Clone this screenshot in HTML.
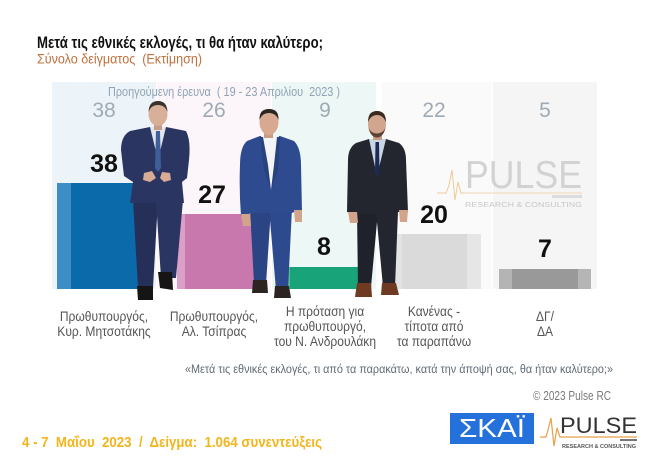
<!DOCTYPE html>
<html><head><meta charset="utf-8"><style>
html,body{margin:0;padding:0;background:#fff;}
svg{display:block;}
text{font-family:"Liberation Sans","DejaVu Sans",sans-serif;}
</style></head><body>
<svg width="650" height="461" viewBox="0 0 650 461" xmlns="http://www.w3.org/2000/svg">
<rect width="650" height="461" fill="#fff"/>
<!-- titles -->
<text x="37" y="48" font-size="16.5" font-weight="bold" fill="#111" textLength="286" lengthAdjust="spacingAndGlyphs">Μετά τις εθνικές εκλογές, τι θα ήταν καλύτερο;</text>
<text x="37" y="63.5" font-size="14" fill="#c0703c" textLength="165" lengthAdjust="spacingAndGlyphs" style="white-space:pre">Σύνολο δείγματος  (Εκτίμηση)</text>

<!-- background panels -->
<rect x="52" y="82" width="104" height="207" fill="#edf4f9"/>
<rect x="157" y="82" width="114" height="207" fill="#fcf5f9"/>
<rect x="272" y="82" width="104" height="207" fill="#edf7f6"/>
<rect x="382" y="82" width="110" height="207" fill="#fafafa"/>
<rect x="493" y="82" width="104" height="207" fill="#f5f5f5"/>

<!-- previous survey -->
<text x="108" y="96" font-size="13" fill="#8fa3b5" textLength="232" lengthAdjust="spacingAndGlyphs" style="white-space:pre">Προηγούμενη έρευνα  ( 19 - 23 Απριλίου  2023 )</text>
<g font-size="21" fill="#9eabb5" text-anchor="middle">
<text x="104" y="117">38</text>
<text x="214" y="117">26</text>
<text x="325" y="117">9</text>
<text x="434" y="117">22</text>
<text x="545" y="117">5</text>
</g>

<!-- watermark -->
<text x="465" y="188" font-size="39" fill="#d2d2d2" textLength="117" lengthAdjust="spacingAndGlyphs">PULSE</text>
<line x1="462" y1="193" x2="582" y2="193" stroke="#f1d7b5" stroke-width="1"/>
<polyline points="437,193 446,193 449,185 452,170 455,200 458,182 461,193 465,193" fill="none" stroke="#f0c99a" stroke-width="1"/>
<rect x="552" y="195" width="30" height="3" fill="#dcdcdc"/>
<text x="465" y="207" font-size="7" fill="#c8c8c8" textLength="117" lengthAdjust="spacingAndGlyphs">RESEARCH &amp; CONSULTING</text>

<!-- bars -->
<rect x="57" y="183" width="93" height="106" fill="#0a6aaa"/>
<rect x="57" y="183" width="14" height="106" fill="#3d8dc6"/>
<rect x="177" y="214" width="88" height="75" fill="#c978ad"/>
<rect x="177" y="214" width="8" height="75" fill="#daa0c7"/>
<rect x="280" y="267" width="87" height="22" fill="#18a478"/>
<rect x="280" y="267" width="10" height="22" fill="#55bc96"/>
<rect x="394" y="234" width="87" height="55" fill="#dadada"/>
<rect x="394" y="234" width="8" height="55" fill="#e3e3e3"/>
<rect x="467" y="234" width="14" height="55" fill="#e6e6e6"/>
<rect x="499" y="269" width="92" height="20" fill="#999999"/>
<rect x="499" y="269" width="13" height="20" fill="#b4b4b4"/>
<rect x="578" y="269" width="13" height="20" fill="#b5b5b5"/>

<!-- value labels -->
<g font-size="25" font-weight="bold" fill="#111" text-anchor="middle">
<text x="104" y="172">38</text>
<text x="212" y="203">27</text>
<text x="324" y="255">8</text>
<text x="434" y="223">20</text>
<text x="545" y="257">7</text>
</g>

<!-- Mitsotakis -->
<g>
<path d="M133,200 L158,200 L153,288 L138,288 Z" fill="#262f58"/>
<path d="M156,200 L183,200 L176,278 L161,278 Z" fill="#2b3562"/>
<path d="M137,286 L153,286 L153,300 L138,300 Z" fill="#151515"/>
<path d="M158,272 L172,272 L173,290 L160,288 Z" fill="#151515"/>
<path d="M130,131 L150,127 L166,127 L186,131 Q191,140 189,160 L187,178 L182,182 L184,203 L130,203 L133,182 L124,176 L121,150 Q121,136 130,131 Z" fill="#2b3562"/>
<path d="M150,127 L166,127 L158,160 Z" fill="#dfe6f0"/>
<path d="M156,131 L160,131 L161,168 L158,172 L155,168 Z" fill="#3f5f98"/>
<path d="M144,173 L152,171 L156,178 L150,182 L143,180 Z" fill="#d7ab94"/>
<path d="M162,172 L170,173 L171,180 L164,182 L160,178 Z" fill="#d7ab94"/>
<rect x="154" y="124" width="8" height="6" fill="#c99c86"/>
<ellipse cx="158" cy="114" rx="9.5" ry="12" fill="#d8af98"/>
<path d="M148.5,112 Q149,101 158,101 Q167,101 167.5,112 Q165,105 158,105 Q151,105 148.5,112 Z" fill="#3b322c"/>
</g>

<!-- Tsipras -->
<g>
<path d="M250,208 L271,208 L266,284 L254,284 Z" fill="#2a4484"/>
<path d="M269,208 L292,208 L288,290 L276,290 Z" fill="#2e4a8e"/>
<path d="M253,280 L267,280 L268,293 L252,293 Z" fill="#2b2420"/>
<path d="M275,286 L289,286 L291,298 L274,298 Z" fill="#2b2420"/>
<path d="M247,141 L260,136 L280,136 L294,141 Q301,148 301,165 L302,212 L294,212 L292,213 L250,213 L249,216 L241,216 Q239,190 240,165 Q240,147 247,141 Z" fill="#2f4b8f"/>
<path d="M261,136 L279,136 L277,160 L271,190 L265,160 Z" fill="#f3f4f6"/>
<path d="M260,137 L263,137 L268,165 L271,190 L264,170 Z" fill="#28427f"/>
<path d="M280,137 L277,137 L274,165 L271,190 L278,170 Z" fill="#28427f"/>
<path d="M241,214 L250,214 L251,226 L243,226 Z" fill="#d2a48c"/>
<path d="M294,210 L302,210 L302,222 L295,222 Z" fill="#d2a48c"/>
<rect x="264" y="131" width="9" height="7" fill="#c99c86"/>
<ellipse cx="269" cy="122" rx="9.5" ry="13" fill="#d6a990"/>
<path d="M259.5,120 Q259,109 269,109 Q279,109 278.5,120 Q276,113 269,113 Q262,113 259.5,120 Z" fill="#2c2522"/>
</g>

<!-- Androulakis -->
<g>
<path d="M357,211 L378,211 L371,287 L358,287 Z" fill="#1f222a"/>
<path d="M376,211 L398,211 L395,287 L383,287 Z" fill="#23262f"/>
<path d="M357,283 L371,283 L372,297 L355,297 Z" fill="#6e3b22"/>
<path d="M382,283 L396,283 L399,295 L381,295 Z" fill="#6e3b22"/>
<path d="M356,143 L369,139 L386,139 L399,143 Q406,148 406,160 L408,212 L398,212 L397,214 L358,214 L357,212 L347,212 L348,160 Q348,148 356,143 Z" fill="#23262f"/>
<path d="M369,139 L386,139 L377,176 Z" fill="#c9d6e6"/>
<path d="M375.5,142 L379,142 L379.5,172 L377,176 L375,172 Z" fill="#1d2a55"/>
<path d="M348,212 L357,212 L358,223 L350,223 Z" fill="#d2a48c"/>
<path d="M399,210 L408,210 L407,222 L400,222 Z" fill="#d2a48c"/>
<rect x="373" y="133" width="9" height="7" fill="#c99c86"/>
<ellipse cx="377" cy="124" rx="9" ry="13" fill="#d2a68e"/>
<path d="M368.5,127 Q370,137 377,137.5 Q384,137 385.5,127 Q384,133 377,133.5 Q370,133 368.5,127 Z" fill="#5a4536"/>
<path d="M368,122 Q368,111 377,111 Q386,111 386,122 Q383,115 377,115 Q371,115 368,122 Z" fill="#3a2a20"/>
</g>

<!-- category labels -->
<g font-size="14" fill="#555" text-anchor="middle">
<g transform="translate(104,0) scale(0.86,1)"><text x="0" y="321">Πρωθυπουργός,</text><text x="0" y="336">Κυρ. Μητσοτάκης</text></g>
<g transform="translate(214,0) scale(0.86,1)"><text x="0" y="321">Πρωθυπουργός,</text><text x="0" y="336">Αλ. Τσίπρας</text></g>
<g transform="translate(325,0) scale(0.86,1)"><text x="0" y="316">Η πρόταση για</text><text x="0" y="331">πρωθυπουργό,</text><text x="0" y="346">του Ν. Ανδρουλάκη</text></g>
<g transform="translate(434,0) scale(0.86,1)"><text x="0" y="316">Κανένας -</text><text x="0" y="331">τίποτα από</text><text x="0" y="346">τα παραπάνω</text></g>
<g transform="translate(545,0) scale(0.86,1)"><text x="0" y="321">ΔΓ/</text><text x="0" y="336">ΔΑ</text></g>
</g>

<text x="185" y="373" font-size="12" fill="#5f6a74" textLength="428" lengthAdjust="spacingAndGlyphs">«Μετά τις εθνικές εκλογές, τι από τα παρακάτω, κατά την άποψή σας, θα ήταν καλύτερο;»</text>
<text x="533" y="400" font-size="13" fill="#7a7a7a" textLength="78" lengthAdjust="spacingAndGlyphs">© 2023 Pulse RC</text>

<text x="22" y="447" font-size="15" font-weight="bold" fill="#f2b51b" textLength="300" lengthAdjust="spacingAndGlyphs" style="white-space:pre">4 - 7  Μαΐου  2023  /  Δείγμα:  1.064 συνεντεύξεις</text>

<!-- SKAI logo -->
<rect x="450" y="413" width="84" height="31" fill="#2471dc"/>
<text x="492" y="437" font-size="26" fill="#fff" text-anchor="middle" textLength="66" lengthAdjust="spacingAndGlyphs">ΣΚΑΪ</text>

<!-- PULSE logo -->
<polyline points="540,437 546,437 548,430 551,418 554,446 557,428 560,437 637,437" fill="none" stroke="#e8a04a" stroke-width="1.2"/>
<text x="560" y="433" font-size="22" fill="#333" textLength="77" lengthAdjust="spacingAndGlyphs">PULSE</text>
<rect x="620" y="439" width="17" height="2" fill="#777"/>
<text x="562" y="448" font-size="5.5" font-weight="bold" fill="#555" textLength="74" lengthAdjust="spacingAndGlyphs">RESEARCH &amp; CONSULTING</text>
</svg>
</body></html>
